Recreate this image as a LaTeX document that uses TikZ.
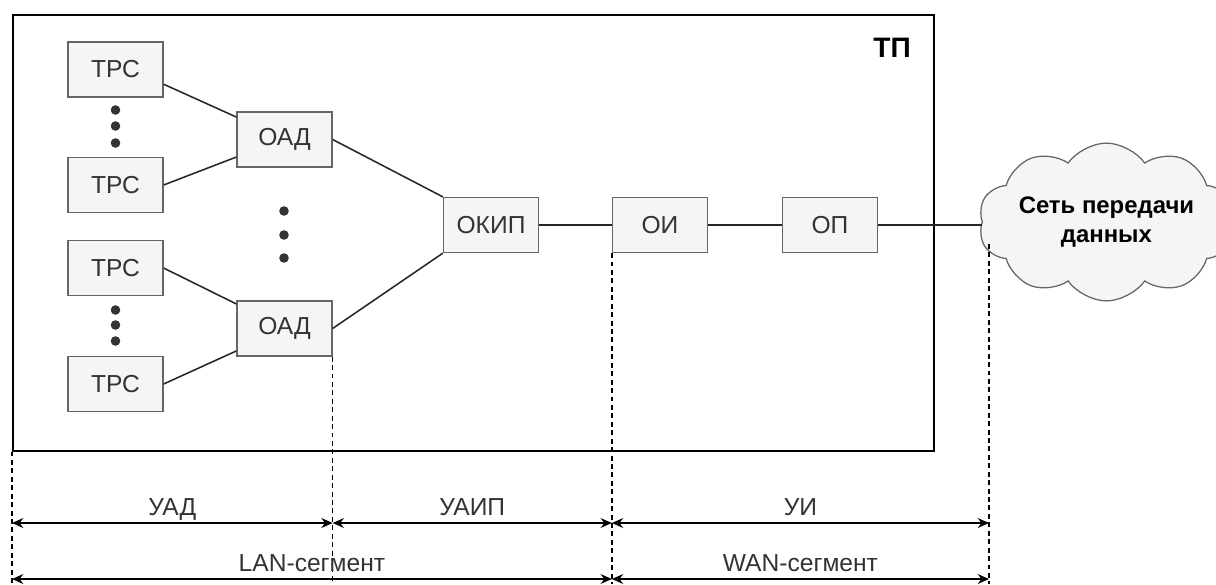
\documentclass[tikz,border=0pt]{standalone}
\usepackage{fontspec}
\setmainfont{Liberation Sans}
\usetikzlibrary{shapes.symbols,arrows.meta}
\definecolor{boxfill}{HTML}{F5F5F5}
\definecolor{boxline}{HTML}{666666}
\definecolor{txtgray}{HTML}{333333}

\tikzstyle{block} = [rectangle, draw=boxline, fill=boxfill, text=txtgray, minimum width=2.375cm, minimum height=1.375cm, inner sep=0pt, line width=0.9pt, font=\fontsize{17.5}{20}\selectfont]

\begin{document}
\begin{tikzpicture}[node distance=2.9cm, >={Stealth[length=8pt,width=7pt]}, line width=1.1pt]
  \tikzstyle{link}=[draw=black!85]
  \tikzstyle{guide}=[line width=1.2pt, dash pattern=on 3.5pt off 2.5pt]
  \tikzstyle{dot}=[circle, fill=txtgray, inner sep=0pt, minimum size=0.24cm]
  \tikzstyle{lbl}=[text=txtgray, font=\fontsize{17.5}{20}\selectfont, inner sep=0pt, anchor=base]
  \useasboundingbox (0,0) rectangle (30.4,-14.6);
  % station frame
  \node[draw, minimum width=23.025cm, minimum height=10.9cm, inner sep=0pt, anchor=north west] (tp) at (0.3,-0.35) {};
  \node[font=\bfseries\fontsize{20}{24}\selectfont] (tplabel) at (22.3,-1.2) {ТП};
  % terminals
  \node[block] (trs1) at (2.8875,-1.7375) {ТРС};
  \node[block, below of=trs1, node distance=2.8875cm] (trs2) {ТРС};
  \node[block] (trs3) at (2.8875,-6.7) {ТРС};
  \node[block, below of=trs3, node distance=2.9cm] (trs4) {ТРС};
  \node[block] (oad1) at (7.1125,-3.4875) {ОАД};
  \node[block] (oad2) at (7.1125,-8.2125) {ОАД};
  \node[block] (okip) at (12.275,-5.625) {ОКИП};
  \node[block, right of=okip, node distance=4.225cm] (oi) {ОИ};
  \node[block, right of=oi, node distance=4.25cm] (op) {ОП};
  \node[cloud, cloud puffs=10, cloud puff arc=110, aspect=2, draw=boxline, fill=boxfill, line width=0.9pt, minimum width=4.75cm, minimum height=2.7cm, inner sep=0pt, align=center, font=\bfseries\fontsize{17}{21}\selectfont] (net) at (27.66,-5.55) {Сеть передачи\\данных};
  % dots
  \foreach \y [count=\i] in {-2.75,-3.15,-3.575} \node[dot] (da\i) at (2.8875,\y) {};
  \foreach \y [count=\i] in {-7.75,-8.125,-8.525} \node[dot] (db\i) at (2.8875,\y) {};
  \foreach \y [count=\i] in {-5.275,-5.875,-6.45} \node[dot] (dc\i) at (7.1,\y) {};
  % links
  \draw[link] (trs1.-17) -- (oad1.155);
  \draw[link] (trs2.east) -- (oad1.200);
  \draw[link] (trs3.east) -- (oad2.153);
  \draw[link] (trs4.east) -- (oad2.205);
  \draw[link] (oad1.east) -- (okip.north west);
  \draw[link] (oad2.east) -- (okip.south west);
  \draw[link] (okip) -- (oi);
  \draw[link] (oi) -- (op);
  \draw[link] (op) -- (op -| net.west);
  % segments
  \coordinate (netedge) at (24.725,-6.1);
  \coordinate (bottom) at (0,-14.6);
  \coordinate (row1) at (0,-13.075);
  \coordinate (row2) at (0,-14.475);
  \draw[guide] (tp.south west) -- (tp.south west |- bottom);
  \draw[guide] (oad2.south east) -- (oad2.south east |- bottom);
  \draw[guide] (oi.south west) -- (oi.south west |- bottom);
  \draw[guide] (netedge) -- (netedge |- bottom);
  \draw[<->] (tp.south west |- row1) -- node[lbl, yshift=0.18cm] (uad) {УАД} (oad2.south east |- row1);
  \draw[<->] (oad2.south east |- row1) -- node[lbl, yshift=0.18cm] (uaip) {УАИП} (oi.south west |- row1);
  \draw[<->] (oi.south west |- row1) -- node[lbl, yshift=0.18cm] (ui) {УИ} (netedge |- row1);
  \draw[<->] (tp.south west |- row2) -- node[lbl, yshift=0.18cm] (lan) {LAN-сегмент} (oi.south west |- row2);
  \draw[<->] (oi.south west |- row2) -- node[lbl, yshift=0.18cm] (wan) {WAN-сегмент} (netedge |- row2);
\end{tikzpicture}
\end{document}
